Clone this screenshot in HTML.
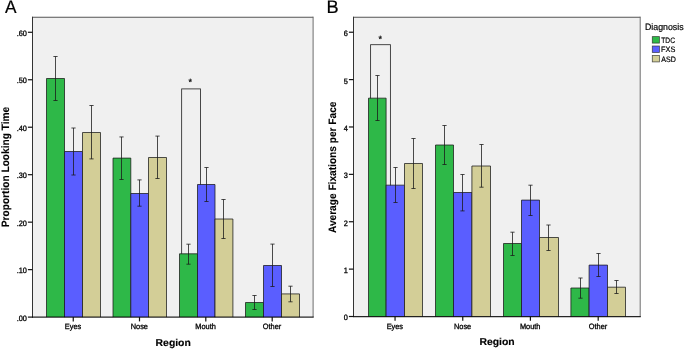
<!DOCTYPE html>
<html lang="en">
<head>
<meta charset="utf-8">
<title>Figure: Proportion Looking Time and Average Fixations per Face by Region</title>
<style>
html,body{margin:0;padding:0;background:#fff;}
body{width:685px;height:350px;overflow:hidden;}
svg{display:block;text-rendering:geometricPrecision;font-family:"Liberation Sans",Arial,Helvetica,sans-serif;}
</style>
</head>
<body>
<svg width="685" height="350" viewBox="0 0 685 350">
<rect width="685" height="350" fill="#fff"/>
<rect x="32.5" y="17.2" width="280.7" height="299.90000000000003" fill="#f0f0f0"/>
<path d="M32.5 17.2H313.2" fill="none" stroke="#555" stroke-width="1.1"/>
<path d="M313.09999999999997 16.7V317.1" fill="none" stroke="#666" stroke-width="0.95"/>
<path d="M32.5 317.6V16.7" fill="none" stroke="#333" stroke-width="1"/>
<rect x="181.65" y="88.9" width="18.849999999999994" height="211.1" fill="none" stroke="#2a2a2a" stroke-width="0.85"/>
<path d="M46.50 317.1V78.50H64.50V317.1" fill="#2eb848" stroke="#1a1a1a" stroke-opacity="0.85" stroke-width="0.9"/>
<path d="M64.50 317.1V151.50H82.50V317.1" fill="#5a5eff" stroke="#1a1a1a" stroke-opacity="0.85" stroke-width="0.9"/>
<path d="M82.50 317.1V132.50H100.50V317.1" fill="#d3ce97" stroke="#1a1a1a" stroke-opacity="0.85" stroke-width="0.9"/>
<path d="M113.00 317.1V158.10H130.80V317.1" fill="#2eb848" stroke="#1a1a1a" stroke-opacity="0.85" stroke-width="0.9"/>
<path d="M130.80 317.1V193.50H148.50V317.1" fill="#5a5eff" stroke="#1a1a1a" stroke-opacity="0.85" stroke-width="0.9"/>
<path d="M148.50 317.1V157.50H166.50V317.1" fill="#d3ce97" stroke="#1a1a1a" stroke-opacity="0.85" stroke-width="0.9"/>
<path d="M179.50 317.1V253.80H197.50V317.1" fill="#2eb848" stroke="#1a1a1a" stroke-opacity="0.85" stroke-width="0.9"/>
<path d="M197.50 317.1V184.50H215.00V317.1" fill="#5a5eff" stroke="#1a1a1a" stroke-opacity="0.85" stroke-width="0.9"/>
<path d="M215.00 317.1V219.00H232.90V317.1" fill="#d3ce97" stroke="#1a1a1a" stroke-opacity="0.85" stroke-width="0.9"/>
<path d="M245.50 317.1V302.50H263.50V317.1" fill="#2eb848" stroke="#1a1a1a" stroke-opacity="0.85" stroke-width="0.9"/>
<path d="M263.50 317.1V265.50H281.50V317.1" fill="#5a5eff" stroke="#1a1a1a" stroke-opacity="0.85" stroke-width="0.9"/>
<path d="M281.50 317.1V293.90H299.50V317.1" fill="#d3ce97" stroke="#1a1a1a" stroke-opacity="0.85" stroke-width="0.9"/>
<path d="M55.50 56.50V100.50M53.40 56.50h4.2M53.40 100.50h4.2" stroke="#1a1a1a" stroke-opacity="0.92" stroke-width="0.85" fill="none"/>
<path d="M73.50 128.00V175.00M71.40 128.00h4.2M71.40 175.00h4.2" stroke="#1a1a1a" stroke-opacity="0.92" stroke-width="0.85" fill="none"/>
<path d="M91.50 105.50V158.90M89.40 105.50h4.2M89.40 158.90h4.2" stroke="#1a1a1a" stroke-opacity="0.92" stroke-width="0.85" fill="none"/>
<path d="M121.50 136.95V179.50M119.40 136.95h4.2M119.40 179.50h4.2" stroke="#1a1a1a" stroke-opacity="0.92" stroke-width="0.85" fill="none"/>
<path d="M139.50 179.90V206.20M137.40 179.90h4.2M137.40 206.20h4.2" stroke="#1a1a1a" stroke-opacity="0.92" stroke-width="0.85" fill="none"/>
<path d="M157.50 136.10V178.50M155.40 136.10h4.2M155.40 178.50h4.2" stroke="#1a1a1a" stroke-opacity="0.92" stroke-width="0.85" fill="none"/>
<path d="M188.50 244.20V264.20M186.40 244.20h4.2M186.40 264.20h4.2" stroke="#1a1a1a" stroke-opacity="0.92" stroke-width="0.85" fill="none"/>
<path d="M206.50 167.50V201.50M204.40 167.50h4.2M204.40 201.50h4.2" stroke="#1a1a1a" stroke-opacity="0.92" stroke-width="0.85" fill="none"/>
<path d="M223.50 199.50V238.50M221.40 199.50h4.2M221.40 238.50h4.2" stroke="#1a1a1a" stroke-opacity="0.92" stroke-width="0.85" fill="none"/>
<path d="M254.50 295.50V309.50M252.40 295.50h4.2M252.40 309.50h4.2" stroke="#1a1a1a" stroke-opacity="0.92" stroke-width="0.85" fill="none"/>
<path d="M272.50 244.10V286.50M270.40 244.10h4.2M270.40 286.50h4.2" stroke="#1a1a1a" stroke-opacity="0.92" stroke-width="0.85" fill="none"/>
<path d="M290.50 286.20V301.80M288.40 286.20h4.2M288.40 301.80h4.2" stroke="#1a1a1a" stroke-opacity="0.92" stroke-width="0.85" fill="none"/>
<path d="M32.0 317.1H313.7" fill="none" stroke="#000" stroke-opacity="0.85" stroke-width="1.25"/>
<text transform="translate(190.25 85.20)" font-size="9" text-anchor="middle" fill="#111" stroke="#111" stroke-width="0.3">*</text>
<path d="M27.9 317.10H32.5" stroke="#111" stroke-width="1.2"/>
<text transform="translate(26.90 320.50) scale(0.947 1)" font-size="7.8" text-anchor="end" fill="#000" stroke="#000" stroke-width="0.3">.00</text>
<path d="M27.9 269.63H32.5" stroke="#111" stroke-width="1.2"/>
<text transform="translate(26.90 273.03) scale(0.947 1)" font-size="7.8" text-anchor="end" fill="#000" stroke="#000" stroke-width="0.3">.10</text>
<path d="M27.9 222.16H32.5" stroke="#111" stroke-width="1.2"/>
<text transform="translate(26.90 225.56) scale(0.947 1)" font-size="7.8" text-anchor="end" fill="#000" stroke="#000" stroke-width="0.3">.20</text>
<path d="M27.9 174.69H32.5" stroke="#111" stroke-width="1.2"/>
<text transform="translate(26.90 178.09) scale(0.947 1)" font-size="7.8" text-anchor="end" fill="#000" stroke="#000" stroke-width="0.3">.30</text>
<path d="M27.9 127.22H32.5" stroke="#111" stroke-width="1.2"/>
<text transform="translate(26.90 130.62) scale(0.947 1)" font-size="7.8" text-anchor="end" fill="#000" stroke="#000" stroke-width="0.3">.40</text>
<path d="M27.9 79.75H32.5" stroke="#111" stroke-width="1.2"/>
<text transform="translate(26.90 83.15) scale(0.947 1)" font-size="7.8" text-anchor="end" fill="#000" stroke="#000" stroke-width="0.3">.50</text>
<path d="M27.9 32.28H32.5" stroke="#111" stroke-width="1.2"/>
<text transform="translate(26.90 35.68) scale(0.947 1)" font-size="7.8" text-anchor="end" fill="#000" stroke="#000" stroke-width="0.3">.60</text>
<path d="M73.25 317.1V321.40000000000003" stroke="#111" stroke-width="1.2"/>
<text transform="translate(73.05 329.15) scale(0.947 1)" font-size="7.8" text-anchor="middle" fill="#000" stroke="#000" stroke-width="0.3">Eyes</text>
<path d="M139.50 317.1V321.40000000000003" stroke="#111" stroke-width="1.2"/>
<text transform="translate(139.30 329.15) scale(0.947 1)" font-size="7.8" text-anchor="middle" fill="#000" stroke="#000" stroke-width="0.3">Nose</text>
<path d="M205.80 317.1V321.40000000000003" stroke="#111" stroke-width="1.2"/>
<text transform="translate(205.60 329.15) scale(0.947 1)" font-size="7.8" text-anchor="middle" fill="#000" stroke="#000" stroke-width="0.3">Mouth</text>
<path d="M272.20 317.1V321.40000000000003" stroke="#111" stroke-width="1.2"/>
<text transform="translate(272.00 329.15) scale(0.947 1)" font-size="7.8" text-anchor="middle" fill="#000" stroke="#000" stroke-width="0.3">Other</text>
<text transform="translate(173.20 346.40) scale(1.04 1)" font-size="10.0" text-anchor="middle" font-weight="bold" fill="#000" stroke="#000" stroke-width="0.15">Region</text>
<text transform="translate(9.20 167.00) rotate(-90) scale(0.949 1)" font-size="10.7" text-anchor="middle" font-weight="bold" fill="#000" stroke="#000" stroke-width="0.12">Proportion Looking Time</text>
<text transform="translate(5.00 13.20) scale(0.95 1)" font-size="18.2" fill="#000" stroke="#000" stroke-width="0.2">A</text>
<rect x="353.5" y="17.2" width="286.79999999999995" height="299.3" fill="#f0f0f0"/>
<path d="M353.5 17.2H640.3" fill="none" stroke="#555" stroke-width="1.1"/>
<path d="M640.1999999999999 16.7V316.5" fill="none" stroke="#666" stroke-width="0.95"/>
<path d="M353.5 317.0V16.7" fill="none" stroke="#333" stroke-width="1"/>
<rect x="370.6" y="44.7" width="19.799999999999955" height="255.3" fill="none" stroke="#2a2a2a" stroke-width="0.85"/>
<path d="M368.50 316.5V98.15H386.10V316.5" fill="#2eb848" stroke="#1a1a1a" stroke-opacity="0.85" stroke-width="0.9"/>
<path d="M386.10 316.5V185.15H404.50V316.5" fill="#5a5eff" stroke="#1a1a1a" stroke-opacity="0.85" stroke-width="0.9"/>
<path d="M404.50 316.5V163.50H422.50V316.5" fill="#d3ce97" stroke="#1a1a1a" stroke-opacity="0.85" stroke-width="0.9"/>
<path d="M435.50 316.5V145.00H453.50V316.5" fill="#2eb848" stroke="#1a1a1a" stroke-opacity="0.85" stroke-width="0.9"/>
<path d="M453.50 316.5V192.50H471.90V316.5" fill="#5a5eff" stroke="#1a1a1a" stroke-opacity="0.85" stroke-width="0.9"/>
<path d="M471.90 316.5V166.00H490.50V316.5" fill="#d3ce97" stroke="#1a1a1a" stroke-opacity="0.85" stroke-width="0.9"/>
<path d="M503.50 316.5V243.50H521.50V316.5" fill="#2eb848" stroke="#1a1a1a" stroke-opacity="0.85" stroke-width="0.9"/>
<path d="M521.50 316.5V200.10H539.50V316.5" fill="#5a5eff" stroke="#1a1a1a" stroke-opacity="0.85" stroke-width="0.9"/>
<path d="M539.50 316.5V237.50H558.50V316.5" fill="#d3ce97" stroke="#1a1a1a" stroke-opacity="0.85" stroke-width="0.9"/>
<path d="M570.90 316.5V288.00H589.10V316.5" fill="#2eb848" stroke="#1a1a1a" stroke-opacity="0.85" stroke-width="0.9"/>
<path d="M589.10 316.5V265.10H607.50V316.5" fill="#5a5eff" stroke="#1a1a1a" stroke-opacity="0.85" stroke-width="0.9"/>
<path d="M607.50 316.5V287.20H625.50V316.5" fill="#d3ce97" stroke="#1a1a1a" stroke-opacity="0.85" stroke-width="0.9"/>
<path d="M377.50 75.50V120.50M375.40 75.50h4.2M375.40 120.50h4.2" stroke="#1a1a1a" stroke-opacity="0.92" stroke-width="0.85" fill="none"/>
<path d="M395.50 167.50V202.50M393.40 167.50h4.2M393.40 202.50h4.2" stroke="#1a1a1a" stroke-opacity="0.92" stroke-width="0.85" fill="none"/>
<path d="M413.50 138.50V188.50M411.40 138.50h4.2M411.40 188.50h4.2" stroke="#1a1a1a" stroke-opacity="0.92" stroke-width="0.85" fill="none"/>
<path d="M444.50 125.50V164.50M442.40 125.50h4.2M442.40 164.50h4.2" stroke="#1a1a1a" stroke-opacity="0.92" stroke-width="0.85" fill="none"/>
<path d="M462.50 174.50V210.90M460.40 174.50h4.2M460.40 210.90h4.2" stroke="#1a1a1a" stroke-opacity="0.92" stroke-width="0.85" fill="none"/>
<path d="M481.50 144.50V187.20M479.40 144.50h4.2M479.40 187.20h4.2" stroke="#1a1a1a" stroke-opacity="0.92" stroke-width="0.85" fill="none"/>
<path d="M512.50 232.20V255.50M510.40 232.20h4.2M510.40 255.50h4.2" stroke="#1a1a1a" stroke-opacity="0.92" stroke-width="0.85" fill="none"/>
<path d="M530.50 185.20V215.50M528.40 185.20h4.2M528.40 215.50h4.2" stroke="#1a1a1a" stroke-opacity="0.92" stroke-width="0.85" fill="none"/>
<path d="M548.50 225.00V250.50M546.40 225.00h4.2M546.40 250.50h4.2" stroke="#1a1a1a" stroke-opacity="0.92" stroke-width="0.85" fill="none"/>
<path d="M580.50 278.00V298.20M578.40 278.00h4.2M578.40 298.20h4.2" stroke="#1a1a1a" stroke-opacity="0.92" stroke-width="0.85" fill="none"/>
<path d="M598.50 253.50V276.50M596.40 253.50h4.2M596.40 276.50h4.2" stroke="#1a1a1a" stroke-opacity="0.92" stroke-width="0.85" fill="none"/>
<path d="M616.50 280.50V293.50M614.40 280.50h4.2M614.40 293.50h4.2" stroke="#1a1a1a" stroke-opacity="0.92" stroke-width="0.85" fill="none"/>
<path d="M353.0 316.5H640.8" fill="none" stroke="#000" stroke-opacity="0.85" stroke-width="1.25"/>
<text transform="translate(380.20 41.80)" font-size="9" text-anchor="middle" fill="#111" stroke="#111" stroke-width="0.3">*</text>
<path d="M348.9 316.50H353.5" stroke="#111" stroke-width="1.2"/>
<text transform="translate(347.90 320.40) scale(0.947 1)" font-size="7.8" text-anchor="end" fill="#000" stroke="#000" stroke-width="0.3">0</text>
<path d="M348.9 269.12H353.5" stroke="#111" stroke-width="1.2"/>
<text transform="translate(347.90 273.02) scale(0.947 1)" font-size="7.8" text-anchor="end" fill="#000" stroke="#000" stroke-width="0.3">1</text>
<path d="M348.9 221.74H353.5" stroke="#111" stroke-width="1.2"/>
<text transform="translate(347.90 225.64) scale(0.947 1)" font-size="7.8" text-anchor="end" fill="#000" stroke="#000" stroke-width="0.3">2</text>
<path d="M348.9 174.36H353.5" stroke="#111" stroke-width="1.2"/>
<text transform="translate(347.90 178.26) scale(0.947 1)" font-size="7.8" text-anchor="end" fill="#000" stroke="#000" stroke-width="0.3">3</text>
<path d="M348.9 126.98H353.5" stroke="#111" stroke-width="1.2"/>
<text transform="translate(347.90 130.88) scale(0.947 1)" font-size="7.8" text-anchor="end" fill="#000" stroke="#000" stroke-width="0.3">4</text>
<path d="M348.9 79.60H353.5" stroke="#111" stroke-width="1.2"/>
<text transform="translate(347.90 83.50) scale(0.947 1)" font-size="7.8" text-anchor="end" fill="#000" stroke="#000" stroke-width="0.3">5</text>
<path d="M348.9 32.22H353.5" stroke="#111" stroke-width="1.2"/>
<text transform="translate(347.90 36.12) scale(0.947 1)" font-size="7.8" text-anchor="end" fill="#000" stroke="#000" stroke-width="0.3">6</text>
<path d="M395.05 316.5V320.8" stroke="#111" stroke-width="1.2"/>
<text transform="translate(394.85 328.55) scale(0.947 1)" font-size="7.8" text-anchor="middle" fill="#000" stroke="#000" stroke-width="0.3">Eyes</text>
<path d="M462.75 316.5V320.8" stroke="#111" stroke-width="1.2"/>
<text transform="translate(462.55 328.55) scale(0.947 1)" font-size="7.8" text-anchor="middle" fill="#000" stroke="#000" stroke-width="0.3">Nose</text>
<path d="M530.40 316.5V320.8" stroke="#111" stroke-width="1.2"/>
<text transform="translate(530.20 328.55) scale(0.947 1)" font-size="7.8" text-anchor="middle" fill="#000" stroke="#000" stroke-width="0.3">Mouth</text>
<path d="M598.20 316.5V320.8" stroke="#111" stroke-width="1.2"/>
<text transform="translate(598.00 328.55) scale(0.947 1)" font-size="7.8" text-anchor="middle" fill="#000" stroke="#000" stroke-width="0.3">Other</text>
<text transform="translate(497.00 345.35) scale(1.04 1)" font-size="10.0" text-anchor="middle" font-weight="bold" fill="#000" stroke="#000" stroke-width="0.15">Region</text>
<text transform="translate(336.00 167.30) rotate(-90) scale(0.949 1)" font-size="10.7" text-anchor="middle" font-weight="bold" fill="#000" stroke="#000" stroke-width="0.12">Average Fixations per Face</text>
<text transform="translate(326.60 13.20)" font-size="18.2" fill="#000" stroke="#000" stroke-width="0.2">B</text>
<text transform="translate(645.00 29.60) scale(0.945 1)" font-size="9.3" fill="#000" stroke="#000" stroke-width="0.2">Diagnosis</text>
<rect x="652.3" y="36.60" width="7.1" height="6.5" fill="#2eb848" stroke="#222" stroke-opacity="0.75" stroke-width="0.8"/>
<text transform="translate(661.30 43.00) scale(0.84 1)" font-size="7.9" fill="#000" stroke="#000" stroke-width="0.2">TDC</text>
<rect x="652.3" y="46.00" width="7.1" height="6.5" fill="#5a5eff" stroke="#222" stroke-opacity="0.75" stroke-width="0.8"/>
<text transform="translate(661.00 52.40) scale(0.93 1)" font-size="7.9" fill="#000" stroke="#000" stroke-width="0.2">FXS</text>
<rect x="652.3" y="55.40" width="7.1" height="6.5" fill="#d3ce97" stroke="#222" stroke-opacity="0.75" stroke-width="0.8"/>
<text transform="translate(661.30 61.80) scale(0.9 1)" font-size="7.9" fill="#000" stroke="#000" stroke-width="0.2">ASD</text>
</svg>
</body>
</html>
